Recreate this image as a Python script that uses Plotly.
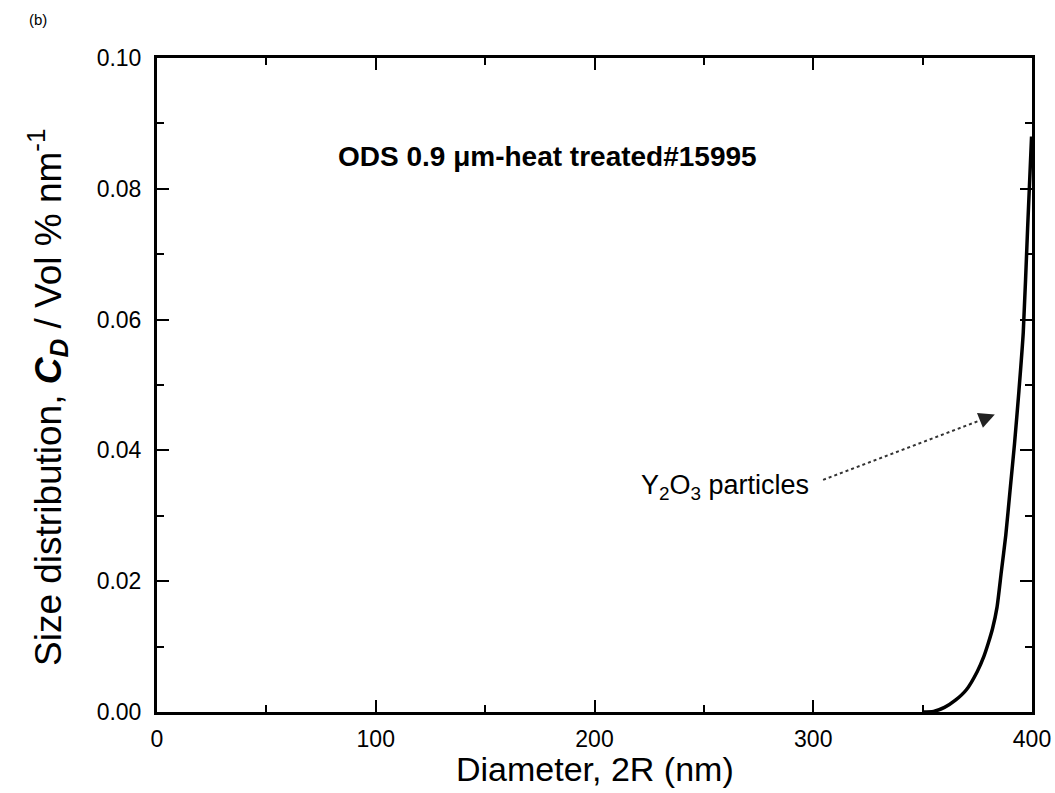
import plotly.graph_objects as go

# Y2O3 particle size distribution (upper tail of the distribution)
diameter_nm = [350, 355, 360, 365, 370, 375, 378, 380, 382, 384, 386, 388,
               390, 392, 394, 396, 398, 399.8]
cd_vol_pct_per_nm = [0.0, 0.0001, 0.0007, 0.0018, 0.0034, 0.0062, 0.0085,
                     0.0105, 0.0128, 0.0160, 0.0215, 0.0270, 0.0340, 0.0410,
                     0.0490, 0.0580, 0.0740, 0.0880]

x_ticks = [0, 100, 200, 300, 400]
y_ticks = [0.00, 0.02, 0.04, 0.06, 0.08, 0.10]
y_tick_text = ["0.00", "0.02", "0.04", "0.06", "0.08", "0.10"]

FONT = "Liberation Sans, Arial, Helvetica, sans-serif"

W, H = 1055, 793
ML, MR, MT, MB = 157, 23, 58, 81
plot_w = W - ML - MR
plot_h = H - MT - MB


def px_to_paper(px, py):
    """Convert page pixel coordinates to paper coordinates."""
    return (px - ML) / plot_w, 1 - (py - MT) / plot_h


fig = go.Figure()
fig.add_trace(go.Scatter(
    x=diameter_nm, y=cd_vol_pct_per_nm, mode="lines",
    line=dict(color="black", width=3.5, shape="spline", smoothing=0.6),
    showlegend=False, hoverinfo="skip",
))

axis_common = dict(
    showline=True, linecolor="black", linewidth=3, mirror="allticks",
    ticks="inside", ticklen=12, tickwidth=2, tickcolor="black",
    showgrid=False, zeroline=False, automargin=False,
    tickfont=dict(family=FONT, size=23, color="black"),
)

fig.update_xaxes(
    range=[0, 400], tickvals=x_ticks,
    minor=dict(ticks="inside", ticklen=7, tickwidth=2, tickcolor="black", dtick=50),
    ticklabelstandoff=4,
    **axis_common,
)
fig.update_yaxes(
    range=[0, 0.10], tickvals=y_ticks, ticktext=y_tick_text,
    minor=dict(ticks="inside", ticklen=7, tickwidth=2, tickcolor="black", dtick=0.01),
    ticklabelstandoff=8,
    **axis_common,
)

# axis titles
tx, ty = px_to_paper(595, 769)
fig.add_annotation(
    xref="paper", yref="paper", x=tx, y=ty, showarrow=False,
    xanchor="center", yanchor="middle",
    text="Diameter, 2R (nm)", font=dict(family=FONT, size=34, color="black"),
)
tx, ty = px_to_paper(48, 398)
fig.add_annotation(
    xref="paper", yref="paper", x=tx, y=ty, showarrow=False, textangle=-90,
    xanchor="center", yanchor="middle",
    text="Size distribution, <b><i>C<sub>D</sub></i></b> / Vol % nm<sup>-1</sup>",
    font=dict(family=FONT, size=37, color="black"),
)

# dotted shaft of the pointer arrow
fig.add_shape(type="line", xref="x", yref="y",
              x0=304.5, y0=0.0355, x1=379.5, y1=0.0450,
              line=dict(color="#333333", width=2, dash="dot"))

fig.add_annotation(
    x=383.0, y=0.0455, ax=377.0, ay=0.0447, axref="x", ayref="y",
    showarrow=True, arrowhead=2, arrowsize=1.6, arrowwidth=2, arrowcolor="#222222",
    text="",
)

fig.add_annotation(
    x=259.7, y=0.0344, xref="x", yref="y", showarrow=False,
    text="Y<sub>2</sub>O<sub>3</sub> particles",
    font=dict(family=FONT, size=27, color="black"),
)

fig.add_annotation(
    x=178.3, y=0.0849, xref="x", yref="y", showarrow=False,
    text="<b>ODS 0.9 \u03bcm-heat treated#15995</b>",
    font=dict(family=FONT, size=28, color="black"),
)

tx, ty = px_to_paper(38, 20)
fig.add_annotation(
    xref="paper", yref="paper", x=tx, y=ty,
    xanchor="center", yanchor="middle", showarrow=False,
    text="(b)", font=dict(family=FONT, size=15, color="black"),
)

fig.update_layout(
    width=W, height=H,
    margin=dict(l=ML, r=MR, t=MT, b=MB),
    paper_bgcolor="white", plot_bgcolor="white",
    font=dict(family=FONT, color="black"),
)

fig.write_html("out.html")
